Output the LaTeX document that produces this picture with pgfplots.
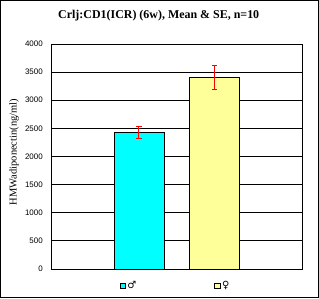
\documentclass[border=0pt]{standalone}
\usepackage{fontspec}
\setmainfont{Liberation Serif}
\newfontfamily\tickfont{Liberation Sans}
\newfontfamily\symfont{DejaVu Sans}
\usepackage{pgfplots}
\pgfplotsset{compat=1.18}
\definecolor{barcyan}{RGB}{0,255,255}
\definecolor{baryellow}{RGB}{255,255,153}
\begin{document}
\begin{tikzpicture}
\useasboundingbox (-51.3bp,-30bp) rectangle (267.7bp,269bp);
\draw[line width=0.75bp] (-50.8bp,-28.3bp) rectangle (266.9bp,268.6bp);
\begin{axis}[
  at={(0,0)}, anchor=south west,
  scale only axis, width=251.4bp, height=225bp,
  xmin=0, xmax=251.4, ymin=0, ymax=4000,
  xtick=\empty,
  ytick={0,500,...,4000},
  ymajorgrids, grid style={black, line width=0.75bp},
  axis line style={black, line width=0.75bp},
  major tick length=0pt,
  yticklabel style={font=\tickfont\fontsize{8}{9}\selectfont, xshift=-5bp},
  /pgf/number format/assume math mode=true,
  /pgf/number format/set thousands separator={},
  scaled y ticks=false,
  ylabel={HMWadiponectin(ng/ml)},
  ylabel style={at={(axis description cs:-0.148,0.52)}, anchor=center, font=\fontsize{10.5}{12}\selectfont},
  ybar, bar width=50, bar shift=0pt,
  legend image code/.code={\draw[#1, draw=black, line width=0.6bp] (0bp,-2.6bp) rectangle (5.2bp,2.6bp);},
  legend columns=2,
  legend style={at={(0.494,-0.0756)}, anchor=center, draw=none, fill=none,
    font=\fontsize{10}{11}\selectfont, inner sep=0pt,
    /tikz/every even column/.append style={column sep=76bp}},
]
\addplot[fill=barcyan, draw=black, line width=0.75bp,
  error bars/.cd, y dir=both, y explicit,
  error bar style={red, line width=1bp},
  error mark options={rotate=90, red, mark size=2.6bp, line width=1bp}]
  coordinates {(87.7,2430) +- (0,107)};
\addlegendentry{\symfont ♂}
\addplot[fill=baryellow, draw=black, line width=0.75bp,
  error bars/.cd, y dir=both, y explicit,
  error bar style={red, line width=1bp},
  error mark options={rotate=90, red, mark size=2.6bp, line width=1bp}]
  coordinates {(163.2,3400) +- (0,217)};
\addlegendentry{\symfont ♀}
\end{axis}
\node[font=\bfseries\fontsize{12}{14}\selectfont] at (107.4bp,253bp) {Crlj:CD1(ICR) (6w), Mean \& SE, n=10};
\end{tikzpicture}
\end{document}
